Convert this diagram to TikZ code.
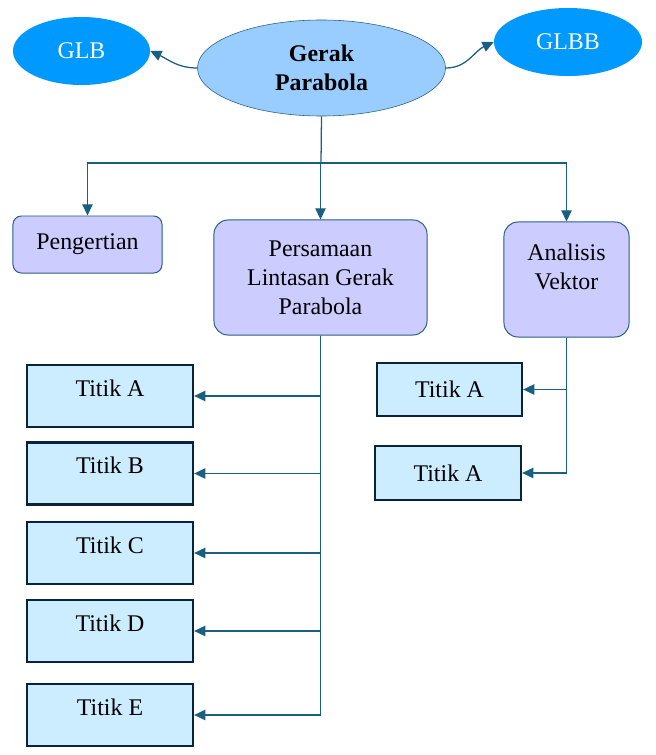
\documentclass[tikz,border=0pt]{standalone}
\usepackage{fontspec}
\setmainfont{Liberation Serif}
\usetikzlibrary{shapes.geometric,arrows.meta,positioning}
\definecolor{LinkTeal}{RGB}{26,94,128}
\definecolor{OvalBlue}{RGB}{0,153,255}
\definecolor{CoreBlue}{RGB}{153,204,255}
\definecolor{SoftLilac}{RGB}{204,204,255}
\definecolor{PaleCyan}{RGB}{204,236,255}
\definecolor{NavyEdge}{RGB}{8,36,56}
\definecolor{BoxEdge}{RGB}{38,96,128}

\begin{document}
\begin{tikzpicture}[
  x=0.025cm, y=0.025cm,
  font=\fontsize{17}{20.5}\selectfont,
  side/.style={ellipse, fill=OvalBlue, text=white, minimum height=1.7cm, inner sep=0pt},
  core/.style={ellipse, draw=BoxEdge, fill=CoreBlue, minimum width=6.2cm, minimum height=2.4cm, align=center, font=\fontsize{17}{20.5}\selectfont\bfseries, inner sep=0pt},
  topic/.style={draw=BoxEdge, line width=0.7pt, fill=SoftLilac, align=center, inner sep=0pt},
  titik/.style={draw=NavyEdge, line width=1.6pt, fill=PaleCyan, inner sep=0pt},
  arrow/.style={-{Triangle[length=2.8mm,width=2.6mm]}, line width=0.9pt, color=LinkTeal},
  link/.style={line width=0.9pt, color=LinkTeal}
]
\useasboundingbox (0,0) rectangle (656,-755);

% Top ovals
\node[core] (gp) at (321.5,-68) {Gerak\\Parabola};
\node[side, minimum width=3.425cm] (glb) at (81.5,-51) {GLB};
\node[side, minimum width=3.7cm] (glbb) at (568,-42) {GLBB};

% Second row
\node[topic, rounded corners=6pt, minimum width=3.725cm, minimum height=1.425cm] (peng) at (87.5,-244.5) {Pengertian};
\node[topic, rounded corners=10pt, minimum width=5.325cm, minimum height=2.875cm] (pers) at (320.5,-277.5) {Persamaan\\Lintasan Gerak\\Parabola};
\node[topic, rounded corners=10pt, minimum width=3.125cm, minimum height=2.875cm, text depth=18pt] (anal) at (566.5,-279.5) {Analisis\\Vektor};

% Points under Persamaan
\node[titik, minimum width=4.15cm, minimum height=1.55cm, text height=12pt, text depth=12pt] (ta) at (110,-396) {Titik A};
\node[titik, minimum width=4.15cm, minimum height=1.55cm, text height=12pt, text depth=12pt] (tb) at (110,-473.5) {Titik B};
\node[titik, minimum width=4.15cm, minimum height=1.55cm, text height=12pt, text depth=12pt] (tc) at (110,-553) {Titik C};
\node[titik, minimum width=4.15cm, minimum height=1.55cm, text height=12pt, text depth=12pt] (td) at (110,-631) {Titik D};
\node[titik, minimum width=4.15cm, minimum height=1.55cm, text height=12pt, text depth=12pt] (te) at (110,-715) {Titik E};

% Points under Analisis
\node[titik, minimum width=3.625cm, minimum height=1.325cm] (ra) at (449.5,-389.5) {Titik A};
\node[titik, minimum width=3.65cm, minimum height=1.35cm] (rb) at (448,-473) {Titik A};

% Links from the centre
\draw[arrow] (gp.west) to[out=180, in=-25] (glb.east);
\draw[arrow] (gp.east) to[out=0, in=205] (glbb.west);

\coordinate (bus) at (321,-163);
\draw[link] (gp.south) -- (bus);
\draw[arrow] (bus) -| (peng.north);
\draw[arrow] (bus) -| (pers.north);
\draw[arrow] (bus) -| (anal.north);

\foreach \t in {ta,tb,tc,td,te}
  \draw[arrow] (pers.south) |- (\t.east);
\foreach \t in {ra,rb}
  \draw[arrow] (anal.south) |- (\t.east);
\end{tikzpicture}
\end{document}
